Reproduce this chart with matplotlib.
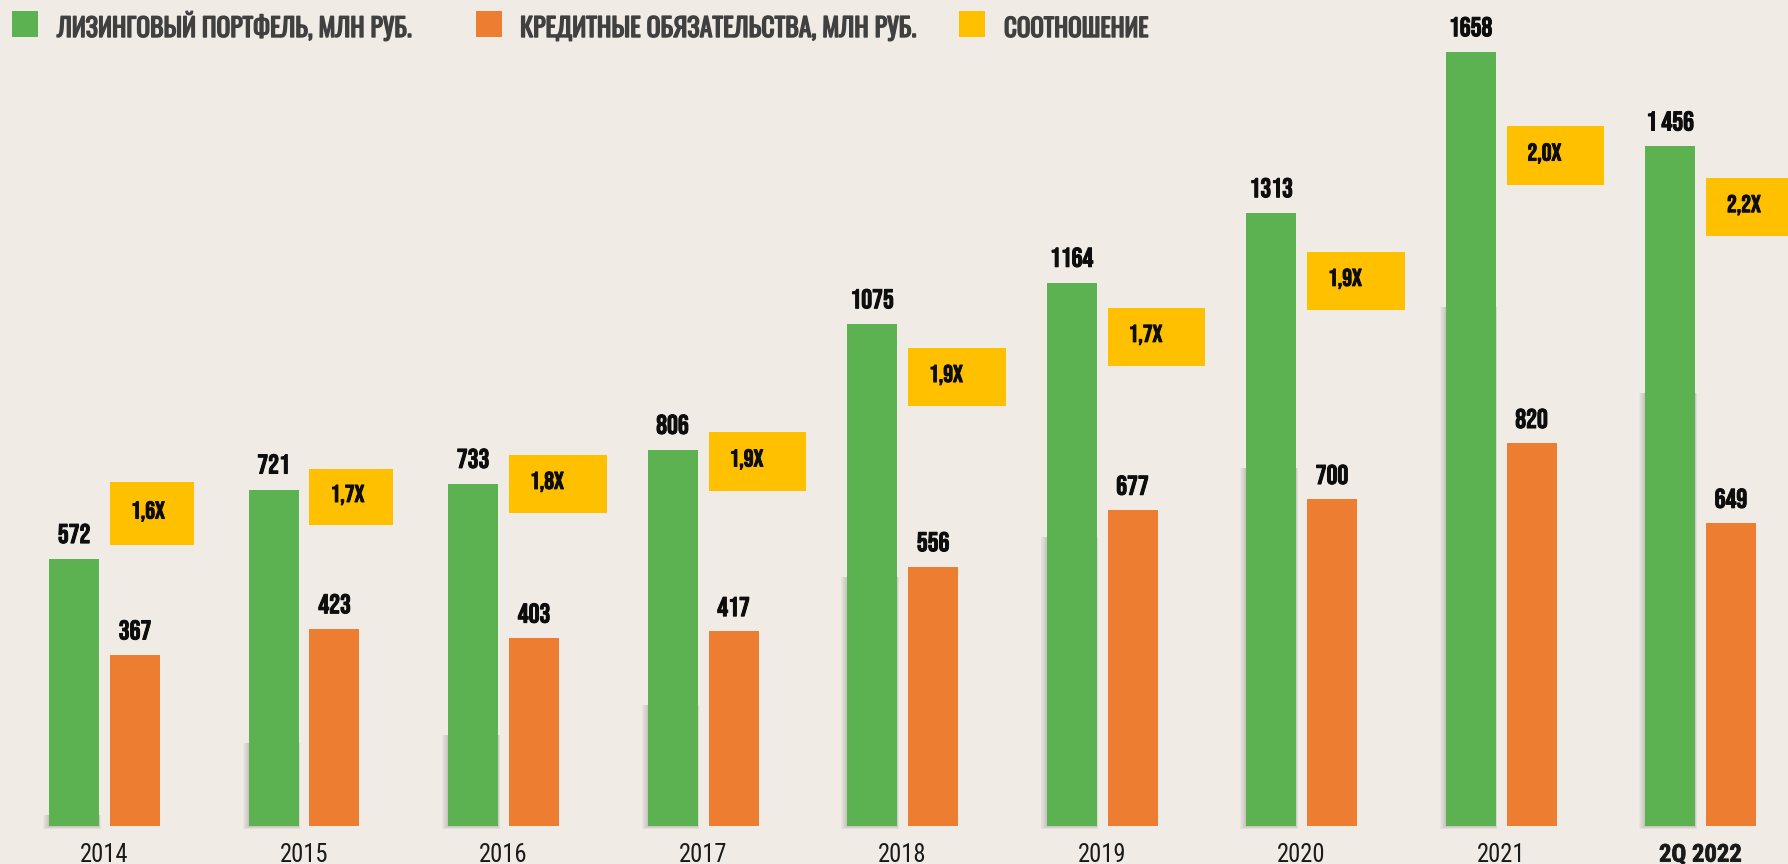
import matplotlib
matplotlib.use('Agg')
import matplotlib.pyplot as plt
from matplotlib.patches import Rectangle
from matplotlib import font_manager
from matplotlib import patheffects as pe
from matplotlib.font_manager import FontProperties
from matplotlib.textpath import TextPath
import numpy as np

# data
periods = ['2014', '2015', '2016', '2017', '2018', '2019', '2020', '2021', '2Q 2022']
portfolio = [572, 721, 733, 806, 1075, 1164, 1313, 1658, 1456]
credit = [367, 423, 403, 417, 556, 677, 700, 820, 649]
ratio = [1.6, 1.7, 1.8, 1.9, 1.9, 1.7, 1.9, 2.0, 2.2]
portfolio_labels = ['572', '721', '733', '806', '1075', '1164', '1313', '1658', '1 456']
series_names = ['ЛИЗИНГОВЫЙ ПОРТФЕЛЬ, МЛН РУБ.',
                'КРЕДИТНЫЕ ОБЯЗАТЕЛЬСТВА, МЛН РУБ.',
                'СООТНОШЕНИЕ']

# where the yellow ratio boxes sit (value units), and the bar shadow heights
box_bottom = [602, 645, 671, 718, 900, 986, 1106, 1373, 1264]
box_height = [135, 120, 124, 126, 124, 124, 124, 127, 124]
box_width = [0.42, 0.42, 0.49, 0.49, 0.49, 0.49, 0.49, 0.49, 0.49]
shadow_top = [24, 178, 195, 259, 534, 619, 767, 1112, 928]

GREEN = '#5cb151'
ORANGE = '#ed7d31'
YELLOW = '#ffc000'
BG = '#f0ebe5'
INK = '#0d0d0d'
LEG_INK = '#404040'

avail = {f.name for f in font_manager.fontManager.ttflist}


def pick(cands):
    for c in cands:
        if c in avail:
            return c
    return 'DejaVu Sans'


def size_for_cap(family, cap_px, weight='normal'):
    # font size (pt) that gives a cap height of cap_px at 100 dpi
    tp = TextPath((0, 0), 'H', size=100, prop=FontProperties(family=family, weight=weight))
    r = tp.get_extents().height / 100
    return cap_px * 0.72 / r


NUM_FONT = pick(['Bebas Neue', 'Oswald', 'Barlow Condensed', 'Liberation Sans'])
LEG_FONT = pick(['Oswald', 'Barlow Condensed', 'Liberation Sans'])
YEAR_FONT = pick(['Roboto Condensed', 'PT Sans Narrow', 'Barlow Semi Condensed', 'Liberation Sans'])
NUM_W = 'normal' if NUM_FONT == 'Bebas Neue' else 'bold'

num_fs = size_for_cap(NUM_FONT, 19, NUM_W)
box_fs = size_for_cap(NUM_FONT, 17, NUM_W)
leg_fs = size_for_cap(LEG_FONT, 21.5)
year_fs = size_for_cap(YEAR_FONT, 17.5)

# a thin outline in the text colour makes the condensed faces look heavier
num_fx = [pe.withStroke(linewidth=0.7, foreground=INK)]
leg_fx = [pe.withStroke(linewidth=1.0, foreground=LEG_INK)]

W, H = 1788, 864
fig = plt.figure(figsize=(W / 100, H / 100), dpi=100, facecolor=BG)
ax = fig.add_axes([0, 38 / H, 1, 826 / H])
ax.set_facecolor(BG)

# pixel sizes in data units
PX = 1 / 199.5
PY = 1 / 0.4667
ax.set_xlim(-104.5 * PX, (W - 104.5) * PX)
ax.set_ylim(0, 826 * PY)

x = np.arange(len(periods))
bw = 50 * PX
off = 30.5 * PX

# soft shadow under the lower part of the green bars
for k in range(1, 7):
    for xi, top in zip(x, shadow_top):
        ax.add_patch(Rectangle((xi - off - bw / 2 - k * PX, -k * 0.5 * PY),
                               bw + k * 1.3 * PX, top + k * 0.5 * PY,
                               color='#555555', alpha=0.045, lw=0,
                               zorder=2, clip_on=False))

ax.bar(x - off, portfolio, bw, color=GREEN, zorder=3)
ax.bar(x + off, credit, bw, color=ORANGE, zorder=3)

for xi, v, lbl in zip(x, portfolio, portfolio_labels):
    ax.annotate(lbl, (xi - off, v), xytext=(0, 11.5), textcoords='offset points',
                ha='center', va='baseline', fontsize=num_fs, fontweight=NUM_W,
                family=NUM_FONT, color=INK, path_effects=num_fx)
for xi, v in zip(x, credit):
    ax.annotate(str(v), (xi + off, v), xytext=(0, 11), textcoords='offset points',
                ha='center', va='baseline', fontsize=num_fs, fontweight=NUM_W,
                family=NUM_FONT, color=INK, path_effects=num_fx)

for i, xi in enumerate(x):
    left = xi + off - bw / 2
    ax.add_patch(Rectangle((left, box_bottom[i]), box_width[i], box_height[i],
                           color=YELLOW, lw=0, zorder=4))
    txt = f'{ratio[i]:.1f}X'.replace('.', ',')
    ax.text(left + 21 * PX, box_bottom[i] + box_height[i] / 2 - 5 * PY, txt,
            ha='left', va='baseline', fontsize=box_fs, fontweight=NUM_W,
            family=NUM_FONT, color=INK, zorder=5, path_effects=num_fx)

ax.set_xticks(x, periods)
ax.tick_params(axis='x', length=0, pad=12, labelsize=year_fs, labelcolor='#1a1a1a')
for t in ax.get_xticklabels():
    t.set_family(YEAR_FONT)
last = ax.get_xticklabels()[-1]
last.set_fontweight('bold')
last.set_path_effects([pe.withStroke(linewidth=0.5, foreground='#1a1a1a')])
ax.set_yticks([])
for s in ax.spines.values():
    s.set_visible(False)

# legend across the top
sq_x = [12, 476, 959]
txt_x = [57, 520, 1004]
txt_w = [355, 396, 144]
colors = [GREEN, ORANGE, YELLOW]
renderer = fig.canvas.get_renderer()
for sx, tx, tw, c, name in zip(sq_x, txt_x, txt_w, colors, series_names):
    fig.add_artist(Rectangle((sx / W, (H - 37) / H), 26 / W, 26 / H,
                             transform=fig.transFigure, color=c, lw=0))
    t = fig.text(tx / W, (H - 37) / H, name, ha='left', va='baseline',
                 fontsize=leg_fs, family=LEG_FONT, color=LEG_INK,
                 path_effects=leg_fx)
    wpx = t.get_window_extent(renderer).width
    if wpx > tw:
        t.set_fontsize(leg_fs * tw / wpx)

fig.savefig('out.png', dpi=100, facecolor=BG)
